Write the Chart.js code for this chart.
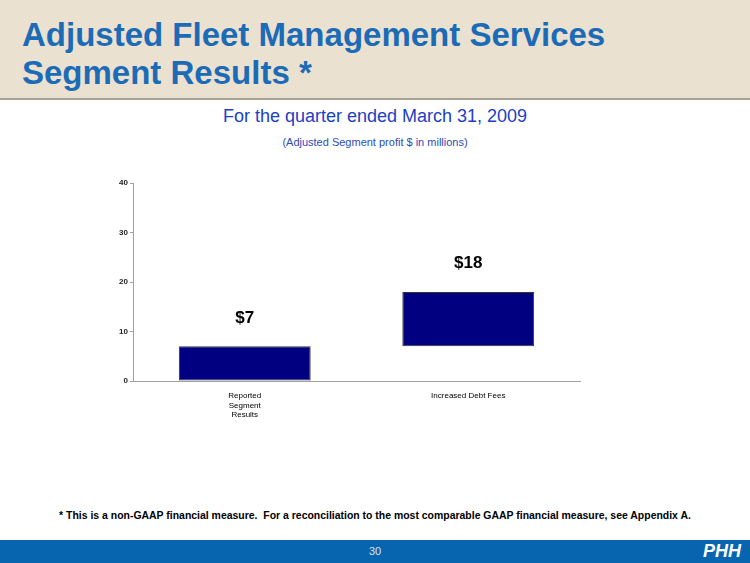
<!DOCTYPE html>
<html>
<head>
<meta charset="utf-8">
<script src="https://cdn.jsdelivr.net/npm/chart.js@4"></script>
<style>
  body { margin: 0; width: 750px; height: 563px; position: relative; background: #fff; font-family: "Liberation Sans", Arial, sans-serif; overflow: hidden; }
  #header { position: absolute; left: 0; top: 0; width: 750px; height: 98px; background: #ebe1d1; border-bottom: 2px solid #a8a294; }
  #title { position: absolute; left: 22px; top: 16px; font-size: 33px; font-weight: bold; line-height: 38px; color: #1b6bb6; }
  #sub1 { position: absolute; left: 0; width: 750px; top: 106px; text-align: center; font-size: 18px; color: #1c40c4; }
  #sub2 { position: absolute; left: 0; width: 750px; top: 136px; text-align: center; font-size: 11px; color: #2c4cb4; }
  #chartBox { position: absolute; left: 90px; top: 170px; width: 510px; height: 260px; }
  #note { position: absolute; left: 0; width: 750px; top: 509px; text-align: center; font-size: 11px; font-weight: bold; color: #000; transform: scaleX(0.95); }
  #footer { position: absolute; left: 0; top: 540px; width: 750px; height: 23px; background: #0765b0; }
  #page { position: absolute; left: 0; width: 750px; top: 545px; text-align: center; font-size: 11px; color: #d8e4f2; }
  #logo { position: absolute; right: 9px; top: 541px; font-size: 18px; font-weight: bold; font-style: italic; color: #fff; }
</style>
</head>
<body>
<div id="header"><div id="title">Adjusted Fleet Management Services<br>Segment Results *</div></div>
<div id="sub1">For the quarter ended March 31, 2009</div>
<div id="sub2">(Adjusted Segment profit $ in millions)</div>
<div id="chartBox"><canvas id="chart"></canvas></div>
<div id="note">* This is a non-GAAP financial measure.&nbsp; For a reconciliation to the most comparable GAAP financial measure, see Appendix A.</div>
<div id="footer"></div>
<div id="page">30</div>
<div id="logo">PHH</div>
<script>
// chart values (in $ millions)
const categories = [["Reported", "Segment", "Results"], "Increased Debt Fees"];
const barStarts = [0, 7];
const barEnds = [7, 18];
const valueLabels = ["$7", "$18"];
const yTicks = [0, 10, 20, 30, 40];

const floating = barStarts.map((s, i) => [s, barEnds[i]]);

// draws the $ labels above each bar
const topLabels = {
  id: 'topLabels',
  afterDatasetsDraw(chart) {
    const ctx = chart.ctx;
    const meta = chart.getDatasetMeta(0);
    ctx.save();
    ctx.font = 'bold 17px "Liberation Sans", Arial, sans-serif';
    ctx.fillStyle = '#000';
    ctx.textAlign = 'center';
    ctx.textBaseline = 'bottom';
    meta.data.forEach((bar, i) => {
      ctx.fillText(valueLabels[i], bar.x, bar.y - 20);
    });
    ctx.restore();
  }
};

new Chart(document.getElementById('chart'), {
  type: 'bar',
  data: {
    labels: categories,
    datasets: [{
      data: floating,
      backgroundColor: '#000080',
      borderColor: '#333333',
      borderWidth: 1,
      borderSkipped: false,
      categoryPercentage: 0.59,
      barPercentage: 1
    }]
  },
  options: {
    responsive: true,
    maintainAspectRatio: false,
    animation: false,
    layout: { padding: { top: 13, right: 20 } },
    plugins: { legend: { display: false }, tooltip: { enabled: false } },
    scales: {
      x: {
        grid: { display: false, drawTicks: false },
        border: { color: '#a0a0a0', width: 1 },
        ticks: { color: '#000', font: { size: 8, family: '"Liberation Sans", Arial' }, padding: 10, maxRotation: 0 },
        afterFit: s => { s.height = 49; }
      },
      y: {
        min: 0,
        max: 40,
        afterBuildTicks: s => { s.ticks = yTicks.map(v => ({ value: v })); },
        grid: { drawOnChartArea: false, tickLength: 3, color: '#a0a0a0' },
        border: { color: '#a0a0a0', width: 1 },
        ticks: { color: '#222', font: { size: 8, weight: 'bold', family: '"Liberation Sans", Arial' }, padding: 2 },
        afterFit: s => { s.width = 43; }
      }
    }
  },
  plugins: [topLabels]
});
</script>
</body>
</html>
